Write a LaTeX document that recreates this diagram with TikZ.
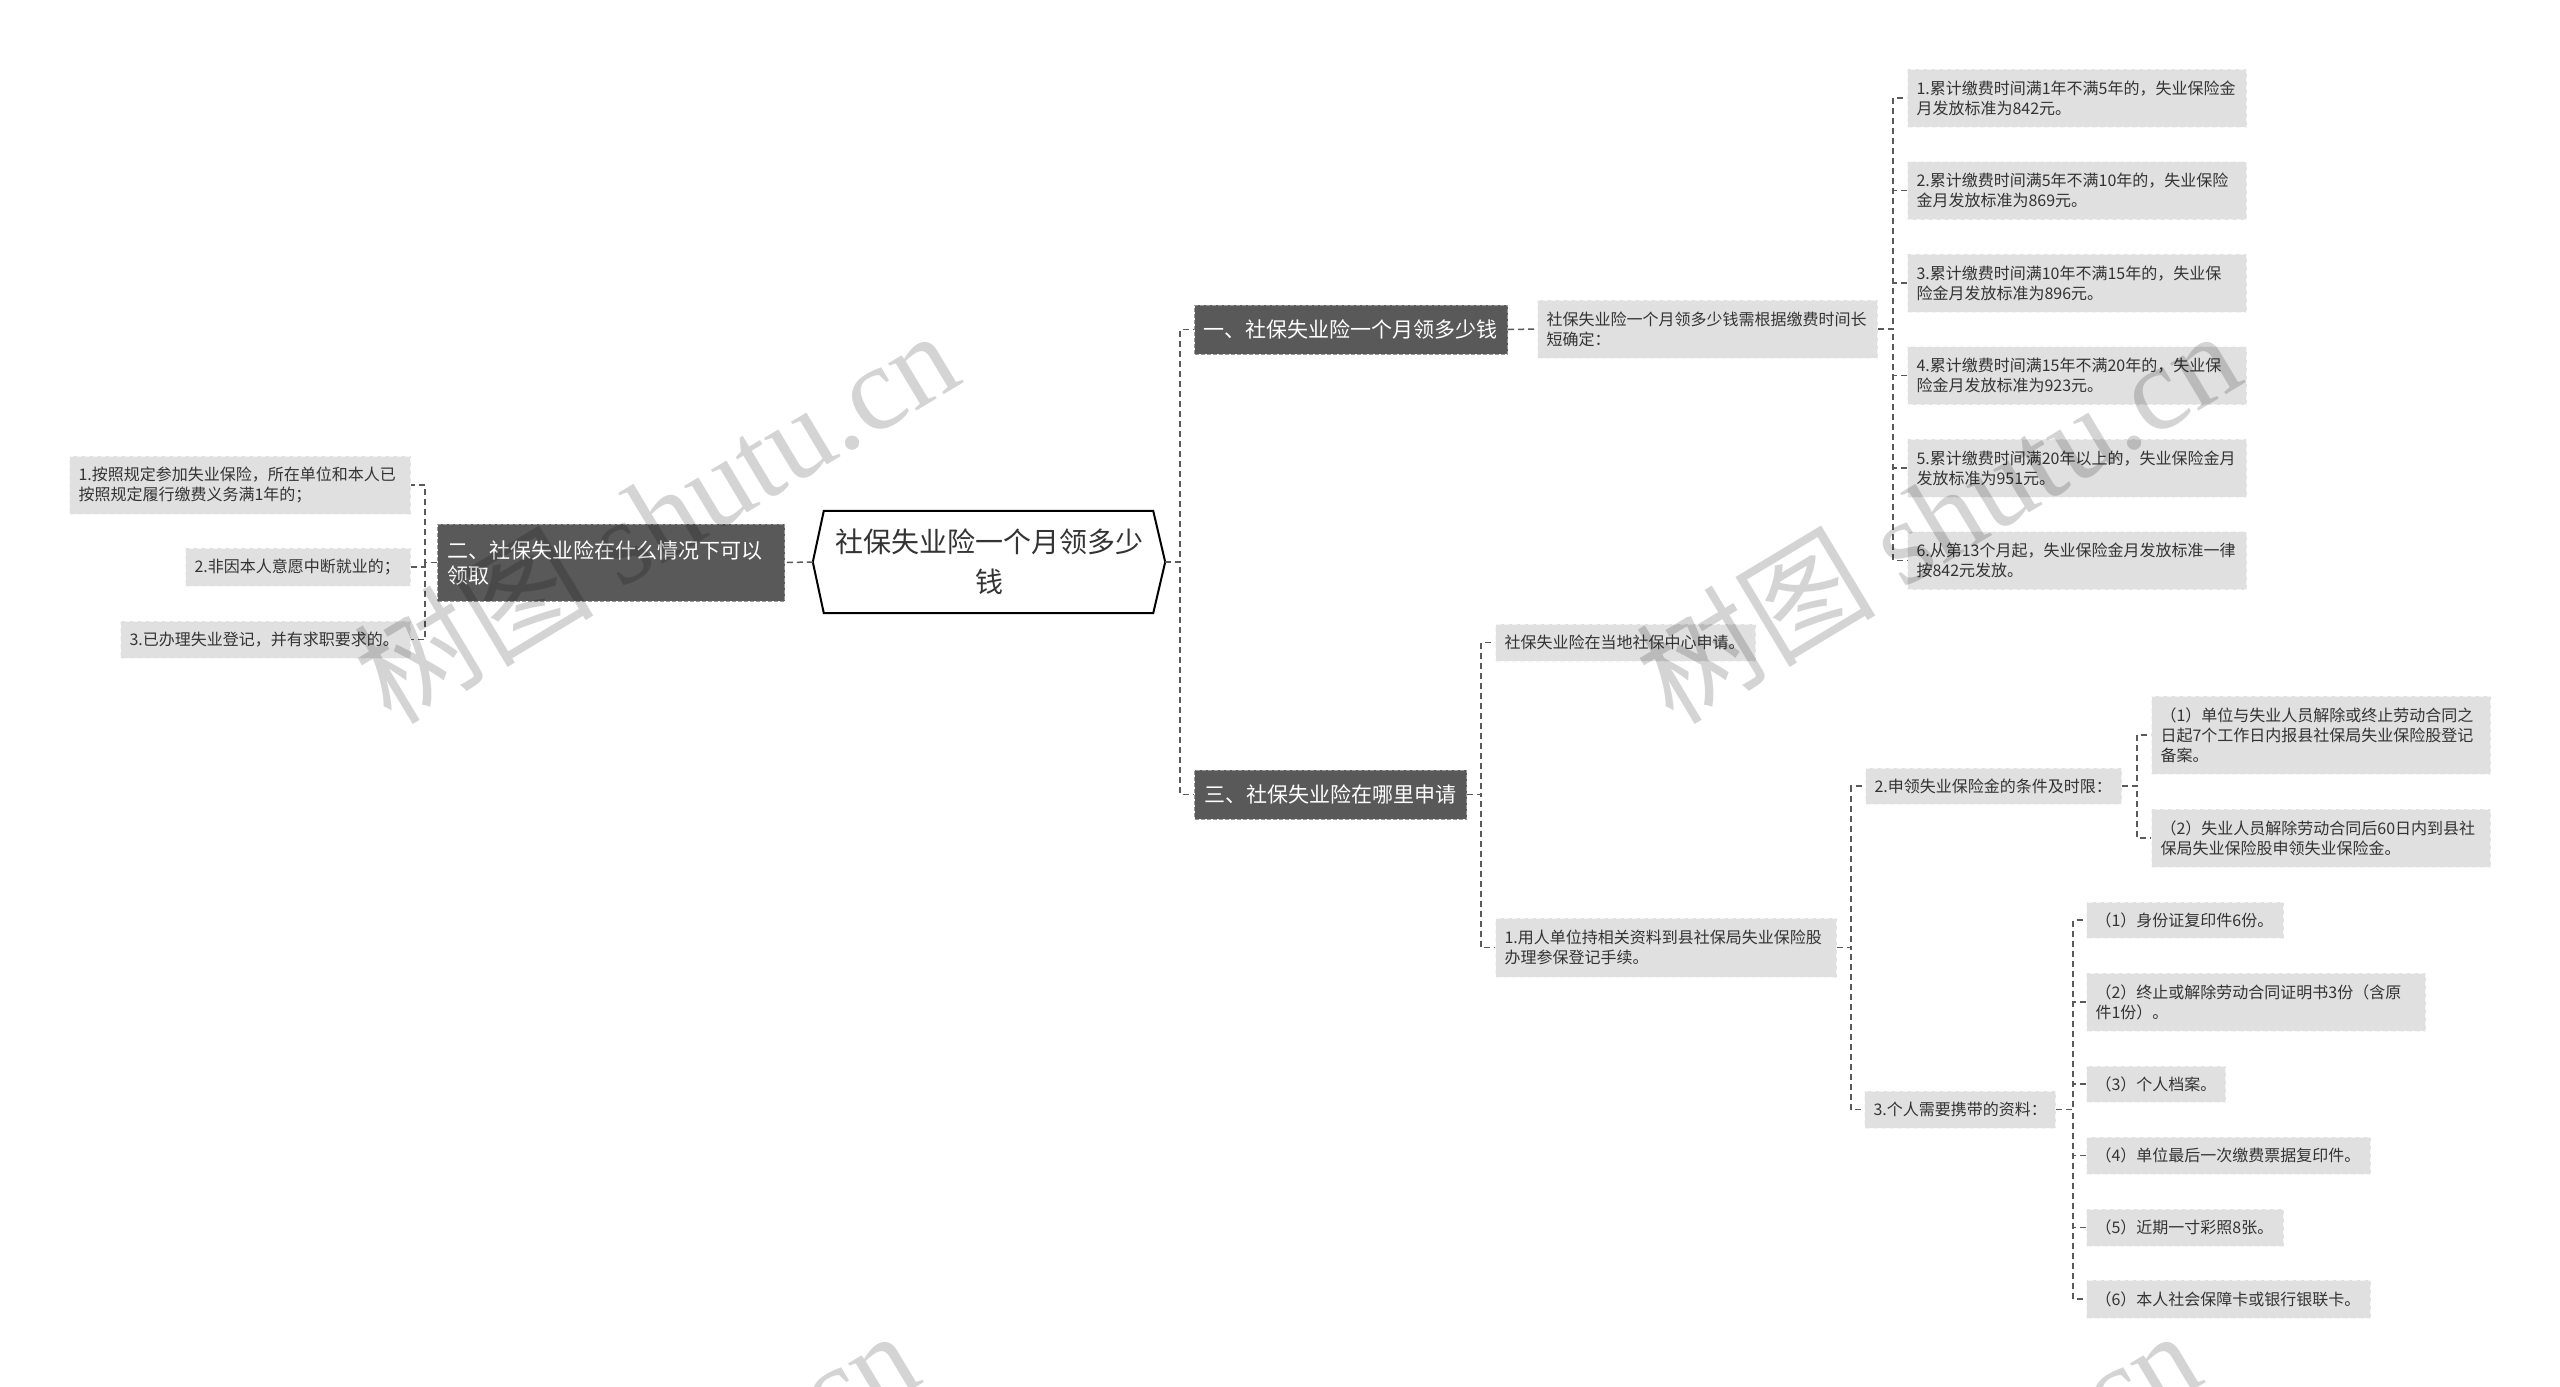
\documentclass[tikz,border=0pt]{standalone}
\usepackage{fontspec}
\setmainfont{Noto Sans CJK SC}
\newfontfamily\wmlatin{Liberation Serif}
\usetikzlibrary{calc}
\definecolor{leafgray}{HTML}{E0E0E0}
\definecolor{darkfill}{HTML}{595959}
\definecolor{conncol}{HTML}{5A5A5A}
\definecolor{txt}{HTML}{333333}
\tikzset{
 conn/.style={draw=conncol, line width=1.5pt, dash pattern=on 6pt off 4pt},
 leafbox/.style={fill=leafgray, draw=black!4, dash pattern=on 5pt off 3pt, line width=1pt, inner xsep=9pt, inner ysep=0pt, align=left, text=txt, font=\fontsize{16}{20}\selectfont, anchor=west},
 darkbox/.style={fill=darkfill, draw=black!40, dash pattern=on 4pt off 2pt, line width=1pt, inner xsep=10pt, inner ysep=0pt, align=left, text=white, font=\fontsize{21}{25}\selectfont, anchor=west},
 wm/.style={text=black, opacity=0.17, rotate=31, font=\fontsize{120}{120}\selectfont, inner sep=0pt}
}
\begin{document}
\begin{tikzpicture}[x=1pt,y=-1pt]
\fill[white] (0,0) rectangle (2560,1387);
\useasboundingbox (0,0) rectangle (2560,1387);

% root
\node[minimum width=352pt, minimum height=102pt, inner sep=0pt, align=center, font=\fontsize{28}{40}\selectfont, text=txt] (root) at (989,562) {社保失业险一个月领多少\\钱};
\draw[line width=2pt, line join=miter] (root.west) -- ($(root.north west)+(11,0)$) -- ($(root.north east)+(-12,0)$) -- (root.east) -- ($(root.south east)+(-12,0)$) -- ($(root.south west)+(11,0)$) -- cycle;

% main branches
\node[darkbox, text width=295pt, minimum height=49pt, inner xsep=9pt] (b1) at (1194,329.5) {一、社保失业险一个月领多少钱};
\node[darkbox, text width=252pt, minimum height=49pt] (b3) at (1194,794.5) {三、社保失业险在哪里申请};
\node[darkbox, text width=327pt, minimum height=77pt] (b2) at (437,562.5) {二、社保失业险在什么情况下可以\\领取};

% branch 1
\node[leafbox, text width=322pt, minimum height=58pt] (s1) at (1537,329) {社保失业险一个月领多少钱需根据缴费时间长\\短确定：};
\node[leafbox, text width=321pt, minimum height=58pt] (r1) at (1907,98) {1.累计缴费时间满1年不满5年的，失业保险金\\月发放标准为842元。};
\node[leafbox, text width=321pt, minimum height=58pt] (r2) at (1907,190.5) {2.累计缴费时间满5年不满10年的，失业保险\\金月发放标准为869元。};
\node[leafbox, text width=321pt, minimum height=58pt] (r3) at (1907,283) {3.累计缴费时间满10年不满15年的，失业保\\险金月发放标准为896元。};
\node[leafbox, text width=321pt, minimum height=58pt] (r4) at (1907,375.5) {4.累计缴费时间满15年不满20年的，失业保\\险金月发放标准为923元。};
\node[leafbox, text width=321pt, minimum height=58pt] (r5) at (1907,468) {5.累计缴费时间满20年以上的，失业保险金月\\发放标准为951元。};
\node[leafbox, text width=321pt, minimum height=58pt] (r6) at (1907,560.5) {6.从第13个月起，失业保险金月发放标准一律\\按842元发放。};

% branch 3
\node[leafbox, text width=242pt, minimum height=37pt] (a1) at (1495,642.5) {社保失业险在当地社保中心申请。};
\node[leafbox, text width=323pt, minimum height=59pt] (a2) at (1495,947.5) {1.用人单位持相关资料到县社保局失业保险股\\办理参保登记手续。};
\node[leafbox, text width=238pt, minimum height=36pt] (c1) at (1865,786) {2.申领失业保险金的条件及时限：};
\node[leafbox, text width=173pt, minimum height=37pt] (c2) at (1864,1109.5) {3.个人需要携带的资料：};
\node[leafbox, text width=321pt, minimum height=78pt] (d1) at (2151,735) {（1）单位与失业人员解除或终止劳动合同之\\日起7个工作日内报县社保局失业保险股登记\\备案。};
\node[leafbox, text width=321pt, minimum height=58pt] (d2) at (2151,838) {（2）失业人员解除劳动合同后60日内到县社\\保局失业保险股申领失业保险金。};
\node[leafbox, text width=179pt, minimum height=36pt] (e1) at (2086,920) {（1）身份证复印件6份。};
\node[leafbox, text width=321pt, minimum height=58pt] (e2) at (2086,1002) {（2）终止或解除劳动合同证明书3份（含原\\件1份）。};
\node[leafbox, text width=121pt, minimum height=36pt] (e3) at (2086,1084) {（3）个人档案。};
\node[leafbox, text width=266pt, minimum height=37pt] (e4) at (2086,1155.5) {（4）单位最后一次缴费票据复印件。};
\node[leafbox, text width=179pt, minimum height=37pt] (e5) at (2086,1227.5) {（5）近期一寸彩照8张。};
\node[leafbox, text width=266pt, minimum height=38pt] (e6) at (2086,1299) {（6）本人社会保障卡或银行银联卡。};

% branch 2
\node[leafbox, text width=323pt, minimum height=58pt] (L1) at (69,485) {1.按照规定参加失业保险，所在单位和本人已\\按照规定履行缴费义务满1年的；};
\node[leafbox, text width=207pt, minimum height=38pt] (L2) at (185,567) {2.非因本人意愿中断就业的；};
\node[leafbox, text width=272pt, minimum height=37pt] (L3) at (120,639.5) {3.已办理失业登记，并有求职要求的。};

% connectors
\draw[conn] (root.east) -- ++(15,0) |- (b1.west);
\draw[conn] (root.east) -- ++(15,0) |- (b3.west);
\draw[conn] (root.west) -- (b2.east);

\draw[conn] (b2.west) -- ++(-12,0) |- (L1.east);
\draw[conn] (b2.west) -- ++(-12,0) |- (L3.east);
\draw[conn] (L2.east) -- ++(15,0);

\draw[conn] (b1.east) -- (s1.west);
\draw[conn] (s1.east) -- ++(15,0) |- (r1.west);
\draw[conn] (s1.east) -- ++(15,0) |- (r6.west);
\foreach \n in {r2,r3,r4,r5} \draw[conn] (\n.west) -- ++(-15,0);

\draw[conn] (b3.east) -- ++(14,0) |- (a1.west);
\draw[conn] (b3.east) -- ++(14,0) |- (a2.west);
\draw[conn] (a2.east) -- ++(14,0) |- (c1.west);
\draw[conn] (a2.east) -- ++(14,0) |- (c2.west);
\draw[conn] (c1.east) -- ++(15,0) |- (d1.west);
\draw[conn] (c1.east) -- ++(15,0) |- (d2.west);
\draw[conn] (c2.east) -- ++(17,0) |- (e1.west);
\draw[conn] (c2.east) -- ++(17,0) |- (e6.west);
\foreach \n in {e2,e3,e4,e5} \draw[conn] (\n.west) -- ++(-14,0);

% watermarks
\node[wm] (wm1) at (655,515) {树图 {\wmlatin shutu.cn}};
\node[wm] (wm2) at (1937,515) {树图 {\wmlatin shutu.cn}};
\node[wm] (wm3) at (615,1515) {树图 {\wmlatin shutu.cn}};
\node[wm] (wm4) at (1897,1515) {树图 {\wmlatin shutu.cn}};
\end{tikzpicture}
\end{document}
